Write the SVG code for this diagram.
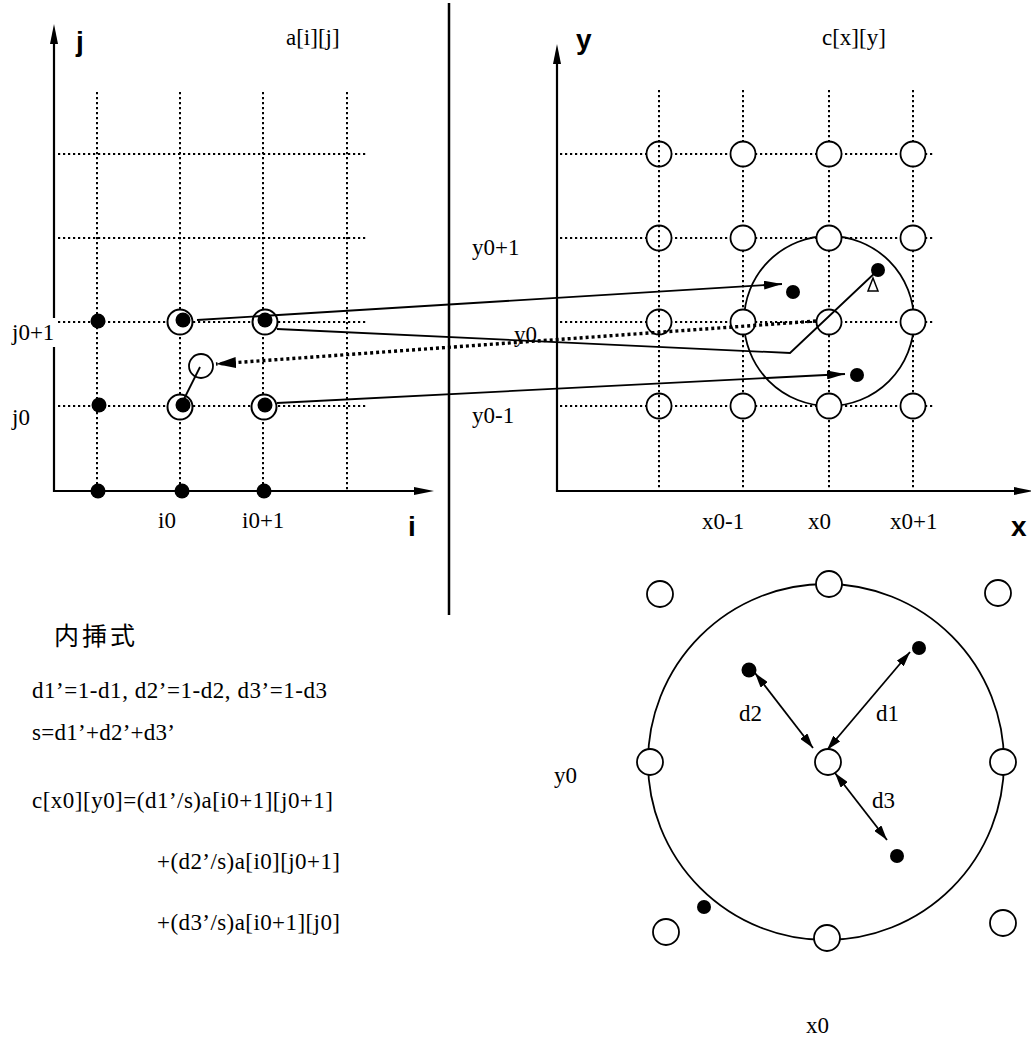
<svg xmlns="http://www.w3.org/2000/svg" width="1031" height="1038" viewBox="0 0 1031 1038">
<style>
.grid{stroke:#000;stroke-width:2;stroke-dasharray:2.2 2.8;fill:none}
.axis{stroke:#000;stroke-width:2.2;fill:none}
.ln{stroke:#000;stroke-width:1.8;fill:none}
.dotted{stroke:#000;stroke-width:3.4;stroke-dasharray:3 3;fill:none}
.dot{fill:#000}
.ring{fill:#fff;stroke:#000;stroke-width:2}
.oc{fill:#fff;stroke:#000;stroke-width:1.8}
.t{font-family:"Liberation Serif","Times New Roman",serif;font-size:23px;fill:#000}
.b{font-family:"Liberation Sans",Arial,sans-serif;font-weight:bold;font-size:28px;fill:#000}
.cjk{font-family:"Noto Sans CJK JP","Noto Sans CJK SC",sans-serif;font-size:25px;letter-spacing:3px;fill:#000}
</style>
<defs>
<marker id="ah" viewBox="0 0 15 9" refX="15" refY="4.5" markerWidth="15" markerHeight="9" markerUnits="userSpaceOnUse" orient="auto-start-reverse"><path d="M0,0 L15,4.5 L0,9 z" fill="#000"/></marker>
<marker id="ah2" viewBox="0 0 18 9" refX="18" refY="4.5" markerWidth="18" markerHeight="9" markerUnits="userSpaceOnUse" orient="auto"><path d="M0,0 L18,4.5 L0,9 z" fill="#000"/></marker>
<marker id="ah3" viewBox="0 0 20 11" refX="20" refY="5.5" markerWidth="20" markerHeight="11" markerUnits="userSpaceOnUse" orient="auto"><path d="M0,0 L20,5.5 L0,11 z" fill="#000"/></marker>
</defs>
<rect width="1031" height="1038" fill="#fff"/>

<!-- divider -->
<line x1="449" y1="3" x2="449" y2="615" stroke="#000" stroke-width="2.5"/>

<!-- left panel -->
<g id="left-grid">
<path class="grid" d="M58,154 H368 M58,238 H368 M58,322 H368 M58,406 H368"/>
<path class="grid" d="M97,92 V491 M180,92 V491 M263,92 V491 M347,92 V491"/>
</g>
<g id="left-axes">
<path class="axis" d="M54,42 V318 M54,347 V491 H416"/>
<polygon points="54,24 50,44 58,44" fill="#000"/>
<polygon points="434,491 414,487 414,495" fill="#000"/>
<text class="b" x="76" y="51">j</text>
<text class="b" x="408" y="536">i</text>
<text class="t" x="286" y="45">a[i][j]</text>
<text class="t" x="158" y="528">i0</text>
<text class="t" x="242" y="528">i0+1</text>
<text class="t" x="12" y="340">j0+1</text>
<text class="t" x="12" y="425">j0</text>
</g>
<g id="left-points">
<circle class="dot" cx="98" cy="321" r="7.5"/>
<circle class="dot" cx="99" cy="405" r="7.5"/>
<circle class="dot" cx="98" cy="491" r="7.5"/>
<circle class="dot" cx="182" cy="491" r="7.5"/>
<circle class="dot" cx="264" cy="491" r="7.5"/>
</g>
<g id="ring-i0-j01"><circle class="ring" cx="180" cy="322" r="12.5"/><circle class="dot" cx="183" cy="320" r="7.5"/></g>
<g id="ring-i01-j01"><circle class="ring" cx="265" cy="322" r="12.5"/><circle class="dot" cx="265" cy="320" r="7.5"/></g>
<g id="ring-i0-j0"><circle class="ring" cx="180" cy="407" r="12.5"/><circle class="dot" cx="183" cy="405" r="7.5"/></g>
<g id="ring-i01-j0"><circle class="ring" cx="264" cy="407" r="12.5"/><circle class="dot" cx="265" cy="405" r="7.5"/></g>
<g id="target-left"><circle class="oc" cx="201" cy="366" r="12"/></g>

<!-- right panel -->
<g id="right-grid">
<path class="grid" d="M560,154 H935 M560,238 H935 M560,322 H935 M560,406 H935"/>
<path class="grid" d="M743,90 V491 M829,90 V491 M913,90 V491"/>
</g>
<g id="right-axes">
<path class="axis" d="M557,62 V491 H1015"/>
<polygon points="557,44 553,64 561,64" fill="#000"/>
<polygon points="1034,491 1014,487 1014,495" fill="#000"/>
<text class="b" x="576" y="49">y</text>
<text class="b" x="1011" y="536">x</text>
<text class="t" x="822" y="45">c[x][y]</text>
<text class="t" x="472" y="255">y0+1</text>
<text class="t" x="514" y="342">y0</text>
<text class="t" x="472" y="423">y0-1</text>
<text class="t" x="702" y="529">x0-1</text>
<text class="t" x="808" y="529">x0</text>
<text class="t" x="890" y="529">x0+1</text>
</g>
<g id="right-big-circle"><circle cx="829" cy="321" r="85" fill="none" stroke="#000" stroke-width="1.8"/></g>
<g id="right-nodes">
<circle class="oc" cx="659" cy="154" r="12.5"/><circle class="oc" cx="743" cy="154" r="12.5"/><circle class="oc" cx="829" cy="154" r="12.5"/><circle class="oc" cx="913" cy="154" r="12.5"/>
<circle class="oc" cx="659" cy="238" r="12.5"/><circle class="oc" cx="743" cy="238" r="12.5"/><circle class="oc" cx="829" cy="238" r="12.5"/><circle class="oc" cx="913" cy="238" r="12.5"/>
<circle class="oc" cx="659" cy="322" r="12.5"/><circle class="oc" cx="743" cy="322" r="12.5"/><circle class="oc" cx="829" cy="322" r="12.5"/><circle class="oc" cx="913" cy="322" r="12.5"/>
<circle class="oc" cx="659" cy="406" r="12.5"/><circle class="oc" cx="743" cy="406" r="12.5"/><circle class="oc" cx="829" cy="406" r="12.5"/><circle class="oc" cx="913" cy="406" r="12.5"/>
</g>
<path class="grid" d="M659,90 V491"/>
<g id="right-points">
<circle class="dot" cx="793" cy="292" r="7"/>
<circle class="dot" cx="878" cy="270" r="7"/>
<circle class="dot" cx="857" cy="375" r="7"/>
</g>

<!-- connectors -->
<g id="connectors">
<line class="ln" x1="197" y1="320" x2="782" y2="284" marker-end="url(#ah2)"/>
<polyline class="ln" points="277,329 790,353 878,270"/>
<polygon points="873,278 868,291 878,291" fill="#fff" stroke="#000" stroke-width="1.5"/>
<line class="ln" x1="277" y1="403" x2="845" y2="374" marker-end="url(#ah2)"/>
<line class="dotted" x1="816" y1="321" x2="216" y2="364" marker-end="url(#ah3)"/>
<line class="ln" x1="200" y1="367" x2="182" y2="403"/>
<line class="ln" x1="755" y1="673" x2="813" y2="748" marker-start="url(#ah)" marker-end="url(#ah)"/>
<line class="ln" x1="910" y1="652" x2="827" y2="750" marker-start="url(#ah)" marker-end="url(#ah)"/>
<line class="ln" x1="835" y1="773" x2="887" y2="840" marker-start="url(#ah)" marker-end="url(#ah)"/>
</g>

<!-- bottom right detail -->
<g id="detail-circle"><circle cx="826" cy="762" r="178" fill="none" stroke="#000" stroke-width="1.8"/></g>
<g id="detail-nodes">
<circle class="oc" cx="660" cy="594" r="13"/>
<circle class="oc" cx="829" cy="584" r="13"/>
<circle class="oc" cx="998" cy="593" r="13"/>
<circle class="oc" cx="650" cy="762" r="13"/>
<circle class="oc" cx="828" cy="762" r="13"/>
<circle class="oc" cx="1003" cy="762" r="13"/>
<circle class="oc" cx="666" cy="932" r="13"/>
<circle class="oc" cx="827" cy="938" r="13"/>
<circle class="oc" cx="1003" cy="923" r="13"/>
</g>
<g id="detail-points">
<circle class="dot" cx="749" cy="670" r="7.5"/>
<circle class="dot" cx="919" cy="648" r="7"/>
<circle class="dot" cx="897" cy="856" r="7"/>
<circle class="dot" cx="704" cy="907" r="7"/>
</g>
<g id="detail-labels">
<text class="t" x="739" y="721">d2</text>
<text class="t" x="876" y="721">d1</text>
<text class="t" x="872" y="808">d3</text>
<text class="t" x="554" y="783">y0</text>
<text class="t" x="806" y="1033">x0</text>
</g>

<!-- formulas -->
<g id="formulas">
<text class="cjk" x="54" y="645">内挿式</text>
<text class="t" x="32" y="698" textLength="295" lengthAdjust="spacing">d1’=1-d1, d2’=1-d2, d3’=1-d3</text>
<text class="t" x="32" y="740" textLength="143" lengthAdjust="spacing">s=d1’+d2’+d3’</text>
<text class="t" x="32" y="808" textLength="301" lengthAdjust="spacing">c[x0][y0]=(d1’/s)a[i0+1][j0+1]</text>
<text class="t" x="157" y="869" textLength="183" lengthAdjust="spacing">+(d2’/s)a[i0][j0+1]</text>
<text class="t" x="157" y="930" textLength="183" lengthAdjust="spacing">+(d3’/s)a[i0+1][j0]</text>
</g>
</svg>
